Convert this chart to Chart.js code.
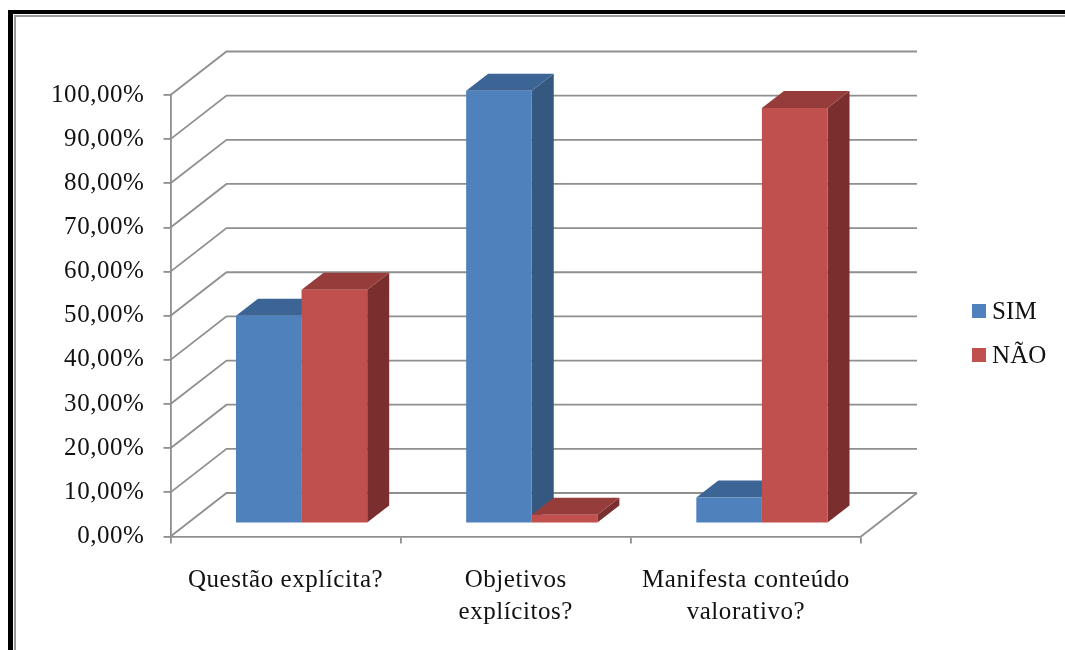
<!DOCTYPE html>
<html>
<head>
<meta charset="utf-8">
<title>SIM / NÃO</title>
<script src="https://cdn.jsdelivr.net/npm/chart.js@4"></script>
<style>
    html, body { margin: 0; padding: 0; background: #fff; overflow: hidden; }
    #wrap { position: relative; width: 1065px; height: 650px; overflow: hidden; }
    #chart { position: absolute; left: 0; top: 0; }
    .frame { position: absolute; border-style: solid; border-width: 0; width: 1200px; height: 800px; }
    .frame.outer { left: 8px; top: 10px; border-left: 5px solid #000; border-top: 4px solid #000; }
    .frame.inner { left: 14px; top: 15px; border-left: 2px solid #999; border-top: 2px solid #999; }
</style>
</head>
<body>
<div id="wrap">
    <div class="frame outer"></div>
    <div class="frame inner"></div>
    <canvas id="chart" width="1065" height="650"></canvas>
</div>
<script>
const categoryLines = [['Questão explícita?'], ['Objetivos', 'explícitos?'], ['Manifesta conteúdo', 'valorativo?']];
const simValues = [47.06, 98.04, 5.88];
const naoValues = [52.94, 1.96, 94.12];
const tickLabels = ['0,00%', '10,00%', '20,00%', '30,00%', '40,00%', '50,00%', '60,00%', '70,00%', '80,00%', '90,00%', '100,00%'];

const FONT = '"Liberation Serif", "Times New Roman", serif';
const GRID = '#8f8f8f';
const GRID_WIDTH = 1.8;

// how far the back wall sits behind the front plane
const WALL_DX = 56, WALL_DY = -43.5;
// bars stand partway into the floor, and have a shorter depth than the wall
const BAR_SHIFT_X = 16, BAR_SHIFT_Y = -13;
const BAR_DX = 22, BAR_DY = -17;

const faceColors = [
    { top: '#3c6595', side: '#34587f' },
    { top: '#963d3b', side: '#7a2f2e' }
];

function poly(ctx, pts, color) {
    ctx.beginPath();
    pts.forEach((p, i) => i ? ctx.lineTo(p[0], p[1]) : ctx.moveTo(p[0], p[1]));
    ctx.closePath();
    ctx.fillStyle = color;
    ctx.fill();
}

function drawWalls(chart) {
    const { ctx, chartArea, scales } = chart;
    ctx.save();
    ctx.strokeStyle = GRID;
    ctx.lineWidth = GRID_WIDTH;
    scales.y.ticks.forEach(t => {
        const y = scales.y.getPixelForValue(t.value);
        ctx.beginPath();
        ctx.moveTo(chartArea.left, y);
        ctx.lineTo(chartArea.left + WALL_DX, y + WALL_DY);
        ctx.lineTo(chartArea.right + WALL_DX, y + WALL_DY);
        ctx.stroke();
    });
    // right edge of the floor
    ctx.beginPath();
    ctx.moveTo(chartArea.right, chartArea.bottom);
    ctx.lineTo(chartArea.right + WALL_DX, chartArea.bottom + WALL_DY);
    ctx.stroke();
    ctx.restore();
}

function drawBarDepth(chart) {
    const { ctx } = chart;
    chart.data.datasets.forEach((ds, i) => {
        chart.getDatasetMeta(i).data.forEach(bar => {
            const l = bar.x - bar.width / 2 + BAR_SHIFT_X;
            const r = bar.x + bar.width / 2 + BAR_SHIFT_X;
            const t = bar.y + BAR_SHIFT_Y;
            const b = bar.base + BAR_SHIFT_Y;
            poly(ctx, [[r, t], [r + BAR_DX, t + BAR_DY], [r + BAR_DX, b + BAR_DY], [r, b]], faceColors[i].side);
            poly(ctx, [[l, t], [l + BAR_DX, t + BAR_DY], [r + BAR_DX, t + BAR_DY], [r, t]], faceColors[i].top);
        });
    });
}

const depth3d = {
    id: 'depth3d',
    beforeDraw(chart) {
        // labels here run a little wider than the font's natural spacing
        chart.ctx.letterSpacing = '0.55px';
    },
    beforeDatasetsDraw(chart) {
        drawWalls(chart);
        drawBarDepth(chart);
        chart.ctx.save();
        chart.ctx.translate(BAR_SHIFT_X, BAR_SHIFT_Y);
    },
    afterDatasetsDraw(chart) {
        chart.ctx.restore();
    }
};

const sideLegend = {
    id: 'sideLegend',
    afterDraw(chart) {
        const ctx = chart.ctx;
        ctx.save();
        ctx.font = '25px ' + FONT;
        ctx.letterSpacing = '0.1px';
        ctx.textBaseline = 'middle';
        chart.data.datasets.forEach((ds, i) => {
            const y = 311 + i * 44;
            ctx.fillStyle = ds.backgroundColor;
            ctx.fillRect(972, y - 7, 14, 14);
            ctx.fillStyle = '#111';
            ctx.fillText(ds.label, 992, y + 1);
        });
        ctx.restore();
    }
};

new Chart(document.getElementById('chart'), {
    type: 'bar',
    data: {
        labels: categoryLines,
        datasets: [
            { label: 'SIM', data: simValues, backgroundColor: '#4f81bd' },
            { label: 'NÃO', data: naoValues, backgroundColor: '#c0504d' }
        ]
    },
    options: {
        responsive: false,
        animation: false,
        categoryPercentage: 0.57,
        barPercentage: 1,
        layout: { padding: { top: 95, right: 204, bottom: 1, left: 0 } },
        plugins: {
            legend: { display: false },
            tooltip: { enabled: false }
        },
        scales: {
            x: {
                grid: { color: GRID, lineWidth: GRID_WIDTH, drawOnChartArea: false, tickLength: 7, offset: true },
                border: { color: GRID, width: GRID_WIDTH },
                ticks: { color: '#111', font: { family: FONT, size: 25, lineHeight: 1.27 }, padding: 21, maxRotation: 0, autoSkip: false }
            },
            y: {
                min: 0,
                max: 100,
                afterFit(scale) { scale.width = 170.5; },
                grid: { color: GRID, lineWidth: GRID_WIDTH, drawOnChartArea: false, tickLength: 7 },
                border: { color: GRID, width: GRID_WIDTH },
                ticks: {
                    stepSize: 10,
                    color: '#111',
                    font: { family: FONT, size: 25 },
                    padding: 19,
                    callback: (value, i) => tickLabels[i]
                }
            }
        }
    },
    plugins: [depth3d, sideLegend]
});
</script>
</body>
</html>
